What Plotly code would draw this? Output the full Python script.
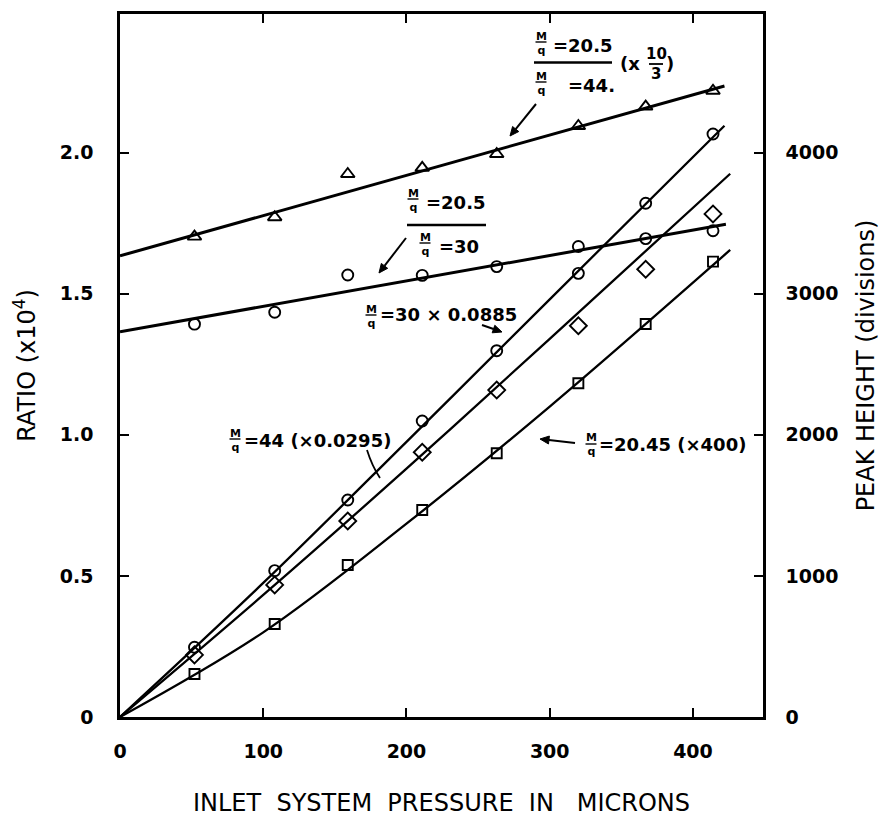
import math
import plotly.graph_objects as go

# ---------------- data ----------------
pressure = [52, 108, 159, 211, 263, 320, 367, 414]          # microns

# ratios (x10^4), left axis
ratio_205_44 = [1.702, 1.771, 1.924, 1.946, 1.995, 2.094, 2.163, 2.219]   # triangles (x10/3)
ratio_205_30 = [1.392, 1.434, 1.566, 1.565, 1.596, 1.667, 1.695, 1.723]   # circles

# peak heights (divisions), right axis
peak_30 = [494, 1037, 1538, 2098, 2596, 3144, 3641, 4132]     # circles  M/q=30 x0.0885
peak_44 = [440, 936, 1389, 1876, 2317, 2773, 3173, 3565]      # diamonds M/q=44 x0.0295
peak_2045 = [305, 659, 1077, 1467, 1869, 2365, 2785, 3227]    # squares  M/q=20.45 x400

# hand-drawn fitted curves
fit_205_44_x = [0, 422]
fit_205_44_y = [1.634, 2.236]
fit_205_30_x = [0, 423]
fit_205_30_y = [1.365, 1.746]
fit_30_x = [0, 100, 200, 300, 422]
fit_30_y = [0, 950, 1950, 2960, 4190]
fit_44_x = [0, 100, 200, 300, 426]
fit_44_y = [0, 865, 1760, 2680, 3850]
fit_2045_x = [0, 100, 200, 300, 426]
fit_2045_y = [0, 600, 1370, 2200, 3310]

x_ticks = [0, 100, 200, 300, 400]
ratio_ticks = [0, 0.5, 1.0, 1.5, 2.0]
ratio_ticktext = ["0", "0.5", "1.0", "1.5", "2.0"]
peak_ticks = [0, 1000, 2000, 3000, 4000]

# ---------------- figure ----------------
W, H = 882, 817
L, R, T, B = 120, 119, 14, 100
FONT = "DejaVu Sans"
BLK = "black"

fig = go.Figure()

def line(x, y, axis, width, spline=False):
    fig.add_trace(go.Scatter(
        x=x, y=y, yaxis=axis, mode="lines",
        line=dict(color=BLK, width=width, shape="spline" if spline else "linear",
                  smoothing=1.0),
        hoverinfo="skip", showlegend=False))

def marks(x, y, axis, symbol, size):
    fig.add_trace(go.Scatter(
        x=x, y=y, yaxis=axis, mode="markers",
        marker=dict(symbol=symbol, size=size, color=BLK,
                    line=dict(color=BLK, width=1.9)),
        showlegend=False))

line(fit_205_44_x, fit_205_44_y, "y", 3.0)
line(fit_205_30_x, fit_205_30_y, "y", 3.0)
line(fit_30_x, fit_30_y, "y2", 2.3, True)
line(fit_44_x, fit_44_y, "y2", 2.3, True)
line(fit_2045_x, fit_2045_y, "y2", 2.3, True)

marks(pressure, ratio_205_44, "y", "triangle-up-open", 12)
marks(pressure, ratio_205_30, "y", "circle-open", 11)
marks(pressure, peak_30, "y2", "circle-open", 11)
marks(pressure, peak_44, "y2", "diamond-open", 13)
marks(pressure, peak_2045, "y2", "square-open", 10)

# ---------------- annotations (positions in page pixels) ----------------
PW, PH = W - L - R, H - T - B
def px(xp):
    return (xp - L) / PW
def py(yp):
    return (H - B - yp) / PH

annotations = []
shapes = []

def txt(s, x, y, size=18, xanchor="left"):
    annotations.append(dict(text=s, x=px(x), y=py(y), xref="paper", yref="paper",
                            showarrow=False, xanchor=xanchor, yanchor="middle",
                            font=dict(family=FONT, size=size, color=BLK, weight="bold")))

def bar(x0, x1, y, w=2.2):
    shapes.append(dict(type="line", xref="paper", yref="paper",
                       x0=px(x0), x1=px(x1), y0=py(y), y1=py(y),
                       line=dict(color=BLK, width=w)))

def mq(xc, ymid):
    # small stacked fraction M over q
    txt("M<br>q", xc, ymid, 11, "center")
    bar(xc - 5.5, xc + 5.5, ymid - 1, 1.4)

def arrow(xh, yh, xt, yt, head=9, half=4):
    dx, dy = xh - xt, yh - yt
    d = math.hypot(dx, dy)
    ux, uy = dx / d, dy / d
    bx, by = xh - ux * head, yh - uy * head
    shapes.append(dict(type="line", xref="paper", yref="paper",
                       x0=px(xt), y0=py(yt), x1=px(bx), y1=py(by),
                       line=dict(color=BLK, width=2)))
    nx, ny = -uy, ux
    p1 = (bx + nx * half, by + ny * half)
    p2 = (bx - nx * half, by - ny * half)
    shapes.append(dict(type="path", xref="paper", yref="paper",
                       path="M %f,%f L %f,%f L %f,%f Z" % (px(xh), py(yh), px(p1[0]), py(p1[1]),
                                                           px(p2[0]), py(p2[1])),
                       fillcolor=BLK, line=dict(color=BLK, width=1)))

# (M/q=20.5)/(M/q=44) (x 10/3)
mq(541, 43)
txt("=20.5", 551, 46)
bar(534, 612, 62.5, 2.5)
mq(541, 83)
txt("=44.", 566, 85)
txt("(x", 618, 64)
txt("10", 656, 54, 15, "center")
bar(649, 663, 64, 1.8)
txt("3", 656, 74, 15, "center")
txt(")", 664, 64)
arrow(510, 136, 536, 104)

# (M/q=20.5)/(M/q=30)
mq(413, 200)
txt("=20.5", 424, 202)
bar(407, 486, 225, 2.5)
mq(425, 244)
txt("=30", 437, 246)
arrow(379, 273, 406, 238)

# M/q = 30 x 0.0885
mq(371, 316)
txt("=30 \u00d7 0.0885", 378, 315)
arrow(502, 332, 482, 325)

# M/q = 44 (x0.0295)
mq(235, 440)
txt("=44 (\u00d70.0295)", 242, 440)
shapes.append(dict(type="path", xref="paper", yref="paper",
                   path="M %f,%f Q %f,%f %f,%f" % (px(367), py(450), px(372), py(466), px(380), py(478)),
                   line=dict(color=BLK, width=1.8)))

# M/q = 20.45 (x400)
mq(591, 445)
txt("=20.45 (\u00d7400)", 597, 445)
arrow(540, 439, 575, 443)

tickfont = dict(family=FONT, size=19, color=BLK, weight="bold")
titlefont = dict(family=FONT, size=24, color=BLK)

fig.update_layout(
    width=W, height=H,
    margin=dict(l=L, r=R, t=T, b=B, pad=0, autoexpand=False),
    paper_bgcolor="white", plot_bgcolor="white",
    showlegend=False,
    annotations=annotations, shapes=shapes,
    xaxis=dict(range=[0, 448.9], tickvals=x_ticks, ticks="inside", ticklen=9,
               tickwidth=2, tickcolor=BLK, showline=True, linewidth=2.5, linecolor=BLK,
               mirror="ticks", showgrid=False, zeroline=False, tickfont=tickfont,
               ticklabelstandoff=15, automargin=False,
               title=dict(text="INLET\u00a0 SYSTEM\u00a0 PRESSURE\u00a0 IN\u00a0\u00a0 MICRONS",
                          font=titlefont, standoff=40)),
    yaxis=dict(range=[0, 2.491], tickvals=ratio_ticks, ticktext=ratio_ticktext,
               ticks="inside", ticklen=9, tickwidth=2, tickcolor=BLK,
               showline=True, linewidth=2.5, linecolor=BLK, showgrid=False,
               zeroline=False, tickfont=tickfont, ticklabelstandoff=20, automargin=False,
               title=dict(text="RATIO (x10<sup>4</sup>)", font=titlefont, standoff=18)),
    yaxis2=dict(range=[0, 4982], tickvals=peak_ticks, overlaying="y", side="right",
                ticks="inside", ticklen=9, tickwidth=2, tickcolor=BLK,
                showline=True, linewidth=2.5, linecolor=BLK, showgrid=False,
                zeroline=False, tickfont=tickfont, ticklabelstandoff=16, automargin=False,
                title=dict(text="PEAK HEIGHT (divisions)", font=titlefont, standoff=20)),
)

fig.write_html("out.html", config={"displayModeBar": False})
